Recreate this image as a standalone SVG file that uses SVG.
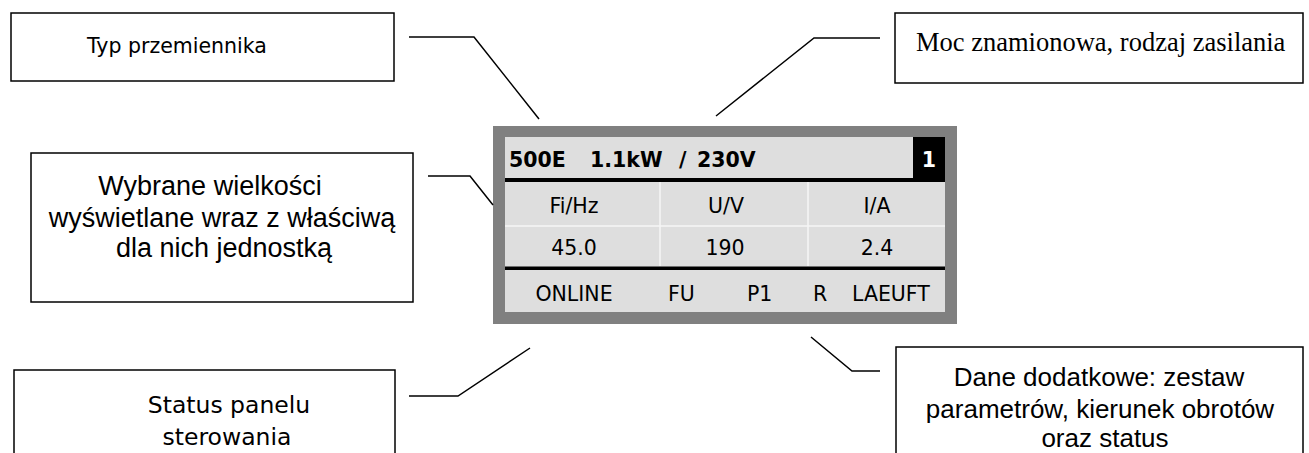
<svg xmlns="http://www.w3.org/2000/svg" width="1309" height="453" viewBox="0 0 1309 453">
<style>
.box{fill:#fff;stroke:#000;stroke-width:1.5}
.conn{fill:none;stroke:#000;stroke-width:1.5}
.tah{font-family:"DejaVu Sans",sans-serif;font-size:20.5px;fill:#000}
.ari{font-family:"Liberation Sans",Arial,sans-serif;fill:#000;text-anchor:middle}
.lcd{font-family:"DejaVu Sans",sans-serif;font-size:20.5px;fill:#000}
.mid{text-anchor:middle}
.sep{stroke:#f6f6f6;stroke-width:1.5}
</style>
<rect width="1309" height="453" fill="#fff"/>
<g id="typ">
<rect class="box" x="11" y="13" width="383" height="68"/>
<text class="tah" x="87" y="53">Typ przemiennika</text>
</g>
<g id="moc">
<rect class="box" x="895" y="13" width="408" height="70"/>
<text x="916" y="51" font-family="'Liberation Serif','Times New Roman',serif" font-size="26.5" fill="#000">Moc znamionowa, rodzaj zasilania</text>
</g>
<g id="wybrane">
<rect class="box" x="31" y="153" width="382" height="149"/>
<text class="ari" font-size="27"><tspan x="210" y="195">Wybrane wielkości</tspan><tspan x="222" y="227">wyświetlane wraz z właściwą</tspan><tspan x="224" y="257">dla nich jednostką</tspan></text>
</g>
<g id="status">
<rect class="box" x="14" y="370" width="381" height="95"/>
<text class="tah mid" style="font-size:23.5px"><tspan x="229" y="413">Status panelu</tspan><tspan x="227" y="445">sterowania</tspan></text>
</g>
<g id="dane">
<rect class="box" x="896" y="347" width="407" height="120"/>
<text class="ari" font-size="26"><tspan x="1099" y="386">Dane dodatkowe: zestaw</tspan><tspan x="1100" y="418">parametrów, kierunek obrotów</tspan><tspan x="1105" y="447">oraz status</tspan></text>
</g>
<g id="panel">
<rect x="493" y="126" width="464" height="198" fill="#808080"/>
<rect x="505" y="137" width="440" height="175" fill="#dedede"/>
<rect x="913" y="137" width="32" height="41" fill="#000"/>
<text x="929" y="167" class="lcd mid" font-weight="bold" style="fill:#fff">1</text>
<text class="lcd" font-weight="bold"><tspan x="509" y="167">500E</tspan><tspan x="590" y="167">1.1kW</tspan><tspan x="679" y="167">/</tspan><tspan x="697" y="167">230V</tspan></text>
<rect x="505" y="178" width="440" height="4" fill="#000"/>
<line class="sep" x1="505" y1="226" x2="945" y2="226"/>
<line class="sep" x1="660" y1="182" x2="660" y2="266"/>
<line class="sep" x1="808" y1="182" x2="808" y2="266"/>
<rect x="505" y="266.5" width="440" height="3.5" fill="#000"/>
<text class="lcd mid" x="574" y="213">Fi/Hz</text>
<text class="lcd mid" x="726" y="213">U/V</text>
<text class="lcd mid" x="877" y="213">I/A</text>
<text class="lcd mid" x="574" y="255">45.0</text>
<text class="lcd mid" x="725" y="255">190</text>
<text class="lcd mid" x="877" y="255">2.4</text>
<text class="lcd mid" x="574" y="301">ONLINE</text>
<text class="lcd" x="668" y="301">FU</text>
<text class="lcd" x="747" y="301">P1</text>
<text class="lcd" x="813" y="301">R</text>
<text class="lcd" x="852" y="301">LAEUFT</text>
</g>
<g id="connectors">
<polyline class="conn" points="409,37 474,37 539,119"/>
<polyline class="conn" points="880,38 814,38 716,116"/>
<polyline class="conn" points="428,176 470,176 493,205"/>
<polyline class="conn" points="409,396 458,396 530,348"/>
<polyline class="conn" points="811,337 852,371 880,371"/>
</g>
</svg>
